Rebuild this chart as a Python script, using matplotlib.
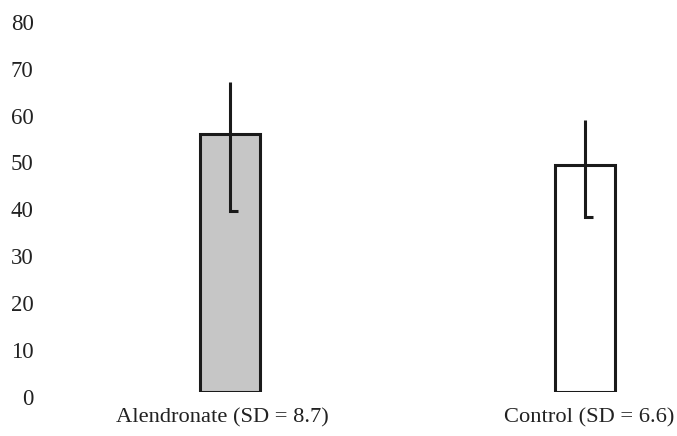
import matplotlib
matplotlib.use("Agg")
import matplotlib.pyplot as plt
from matplotlib.transforms import ScaledTranslation

groups = ['Alendronate (SD = 8.7)', 'Control (SD = 6.6)']
means = [55.0, 48.3]
err_high = [66.0, 57.9]
err_low = [38.6, 37.3]
colors = ['#c6c6c6', 'white']
yticks = [0, 10, 20, 30, 40, 50, 60, 70, 80]

plt.rcParams['font.family'] = ['Liberation Serif', 'DejaVu Serif']

fig = plt.figure(figsize=(6.77, 4.36), dpi=100)
ax = fig.add_axes([40 / 677, 44 / 436, 637 / 677, 384.6 / 436])

x = [0, 1]
ax.bar(x, means, width=0.17, color=colors, edgecolor='#1a1a1a', linewidth=2.2, zorder=2)

# error lines: vertical stroke with a short foot to the right at the low end
for xi, lo, hi in zip(x, err_low, err_high):
    ax.plot([xi, xi, xi + 0.022], [hi, lo, lo], color='#1a1a1a', linewidth=2.2,
            solid_joinstyle='miter', solid_capstyle='butt', zorder=3)

ax.set_xlim(-0.535, 1.259)
ax.set_ylim(0, 82)
ax.set_yticks(yticks)
ax.set_yticklabels([str(t) for t in yticks], fontsize=16.5, color='#222222')
ax.set_xticks(x)
ax.set_xticklabels(groups, fontsize=16.2, color='#222222')
ax.tick_params(axis='y', length=0, pad=4.5)
ax.tick_params(axis='x', length=0, pad=12)
for s in ax.spines.values():
    s.set_visible(False)

for lab in ax.get_yticklabels():
    lab.set_transform(lab.get_transform() + ScaledTranslation(0, -5 / 100, fig.dpi_scale_trans))
offsets = [-8, 4]
for lab, dx in zip(ax.get_xticklabels(), offsets):
    lab.set_transform(lab.get_transform() + ScaledTranslation(dx / 100, 0, fig.dpi_scale_trans))

fig.savefig('out.png', dpi=100)
